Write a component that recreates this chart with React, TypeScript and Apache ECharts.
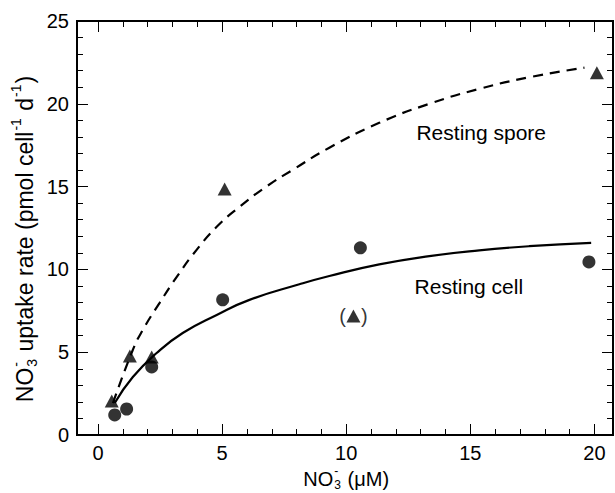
import React, { useEffect, useRef } from 'react';
import * as echarts from 'echarts';

// Resting cell (circles)
const cellX = [0.67, 1.15, 2.16, 5.02, 10.57, 19.78];
const cellY = [1.21, 1.57, 4.11, 8.16, 11.3, 10.45];
// Resting spore (triangles); index 4 is the bracketed point
const sporeX = [0.55, 1.28, 2.16, 5.1, 10.29, 20.1];
const sporeY = [2.05, 4.77, 4.71, 14.86, 7.19, 21.87];
const sporeBracketed = 4;
// Fitted curves
const cellFitX = [0.67, 1.4, 2.36, 3.41, 4.78, 6.1, 8.11, 9.32, 11.33, 13.35, 15.36, 17.37, 19.87];
const cellFitY = [1.93, 3.5, 4.95, 6.16, 7.25, 8.16, 9.1, 9.6, 10.3, 10.8, 11.15, 11.4, 11.6];
const sporeFitX = [0.6, 1.4, 1.8, 2.48, 3.17, 3.97, 4.78, 5.7, 6.78, 7.83, 9.32, 11.33, 13.35, 15.36, 17.37, 19.6];
const sporeFitY = [1.93, 5.14, 6.34, 7.98, 9.55, 11.18, 12.57, 13.78, 15.0, 16.0, 17.35, 18.85, 20.0, 20.9, 21.6, 22.18];

const xMin = -0.85;
const xMax = 20.75;
const yMin = 0;
const yMax = 25;
const yInterval = 5;

const W = 615;
const H = 493;
const GRID = { left: 77, right: 2, top: 21, bottom: 58 };

const FONT = 'Liberation Sans, Arial, Helvetica, sans-serif';

type Part = { t?: string; sub?: string; sup?: string };

const measure = (t: string, size: number) => {
  const c = document.createElement('canvas').getContext('2d') as CanvasRenderingContext2D;
  c.font = `${size}px Liberation Sans, Arial, sans-serif`;
  return c.measureText(t).width;
};

const txt = (text: string, x: number, y: number, size: number) => ({
  type: 'text',
  x,
  y,
  silent: true,
  style: {
    text,
    fontSize: size,
    fontFamily: FONT,
    fill: '#000',
    textAlign: 'left',
    textVerticalAlign: 'middle',
    align: 'left',
    verticalAlign: 'middle',
  },
});

function buildRow(parts: Part[], size: number) {
  const small = Math.round(size * 0.62);
  const kids: any[] = [];
  let x = 0;
  for (const p of parts) {
    if (p.t !== undefined) {
      const trimmed = p.t.replace(/^\s+/, '');
      const lead = p.t.length - trimmed.length;
      x += measure(' ', size) * lead;
      kids.push(txt(trimmed, x, 0, size));
      x += measure(trimmed, size);
    } else {
      let w = 0;
      if (p.sup) {
        kids.push(txt(p.sup, x + 1, -size * 0.4, small));
        w = Math.max(w, measure(p.sup, small));
      }
      if (p.sub) {
        kids.push(txt(p.sub, x + 1, size * 0.3, small));
        w = Math.max(w, measure(p.sub, small));
      }
      x += w + 2;
    }
  }
  return { kids, width: x };
}

const xTitleParts: Part[] = [{ t: 'NO' }, { sub: '3', sup: '-' }, { t: ' (μM)' }];
const yTitleParts: Part[] = [
  { t: 'NO' },
  { sub: '3', sup: '-' },
  { t: ' uptake rate (pmol cell' },
  { sup: '-1' },
  { t: ' d' },
  { sup: '-1' },
  { t: ')' },
];

const px = (v: number) => GRID.left + ((v - xMin) / (xMax - xMin)) * (W - GRID.left - GRID.right);
const py = (v: number) => H - GRID.bottom - ((v - yMin) / (yMax - yMin)) * (H - GRID.top - GRID.bottom);

function makeX(position: string, showLabels: boolean) {
  return {
    type: 'value',
    position,
    z: 10,
    min: xMin,
    max: xMax,
    splitLine: { show: false },
    axisLine: { show: true, onZero: false, lineStyle: { color: '#000', width: 2 } },
    axisTick: { show: true, inside: true, length: 11, lineStyle: { color: '#000' } },
    minorTick: { show: true, splitNumber: 5, length: 6, lineStyle: { color: '#000' } },
    axisLabel: {
      show: showLabels,
      showMinLabel: false,
      showMaxLabel: false,
      fontSize: 20,
      fontFamily: FONT,
      color: '#000',
      margin: 8,
    },
  };
}

function makeY(position: string, showLabels: boolean) {
  return {
    type: 'value',
    position,
    z: 10,
    min: yMin,
    max: yMax,
    interval: yInterval,
    splitLine: { show: false },
    axisLine: { show: true, onZero: false, lineStyle: { color: '#000', width: 2 } },
    axisTick: { show: true, inside: true, length: 11, lineStyle: { color: '#000' } },
    minorTick: { show: true, splitNumber: 5, length: 6, lineStyle: { color: '#000' } },
    axisLabel: { show: showLabels, fontSize: 20, fontFamily: FONT, color: '#000', margin: 8 },
  };
}

export default function App() {
  const ref = useRef<HTMLDivElement>(null);
  useEffect(() => {
    if (!ref.current) return;
    const chart = echarts.init(ref.current, undefined, { renderer: 'svg' });
    const xt = buildRow(xTitleParts, 20);
    const yt = buildRow(yTitleParts, 23);
    const label = (text: string, x: number, y: number) => ({
      type: 'text',
      x: px(x),
      y: py(y),
      silent: true,
      style: {
        text,
        fontSize: 21,
        fontFamily: FONT,
        fill: '#000',
        textAlign: 'center',
        textVerticalAlign: 'middle',
        align: 'center',
        verticalAlign: 'middle',
      },
    });
    const option: any = {
      animation: false,
      grid: { ...GRID, show: true, borderColor: '#000', borderWidth: 2, z: 10 },
      xAxis: [makeX('bottom', true), makeX('top', false)],
      yAxis: [makeY('left', true), makeY('right', false)],
      graphic: [
        { type: 'group', x: px(10) - xt.width / 2, y: 479, children: xt.kids },
        { type: 'group', x: 25, y: 239 + yt.width / 2, rotation: Math.PI / 2, children: yt.kids },
        label('Resting spore', 15.44, 18.24),
        label('Resting cell', 14.94, 8.94),
      ],
      series: [
        {
          type: 'line',
          data: cellFitX.map((x, i) => [x, cellFitY[i]]),
          smooth: true,
          showSymbol: false,
          lineStyle: { color: '#000', width: 2.2, type: 'solid' },
          z: 2,
        },
        {
          type: 'line',
          data: sporeFitX.map((x, i) => [x, sporeFitY[i]]),
          smooth: true,
          showSymbol: false,
          lineStyle: { color: '#000', width: 2.2, type: [10, 7] },
          z: 2,
        },
        {
          type: 'scatter',
          symbol: 'circle',
          symbolSize: 13,
          itemStyle: { color: '#000' },
          data: cellX.map((x, i) => [x, cellY[i]]),
          z: 3,
        },
        {
          type: 'scatter',
          symbol: 'triangle',
          symbolSize: [14, 13],
          itemStyle: { color: '#000' },
          data: sporeX.map((x, i) =>
            i === sporeBracketed
              ? {
                  value: [x, sporeY[i]],
                  label: {
                    show: true,
                    position: 'inside',
                    formatter: '{p|(}{g|\u00a0}{p|)}',
                    rich: {
                      p: { fontSize: 20, fontFamily: FONT, color: '#000' },
                      g: { width: 15, fontSize: 20 },
                    },
                  },
                }
              : [x, sporeY[i]]
          ),
          z: 3,
        },
      ],
    };
    chart.setOption(option);
    return () => chart.dispose();
  }, []);
  return <div ref={ref} style={{ width: W, height: H, position: 'absolute', left: 0, top: 0 }} />;
}
